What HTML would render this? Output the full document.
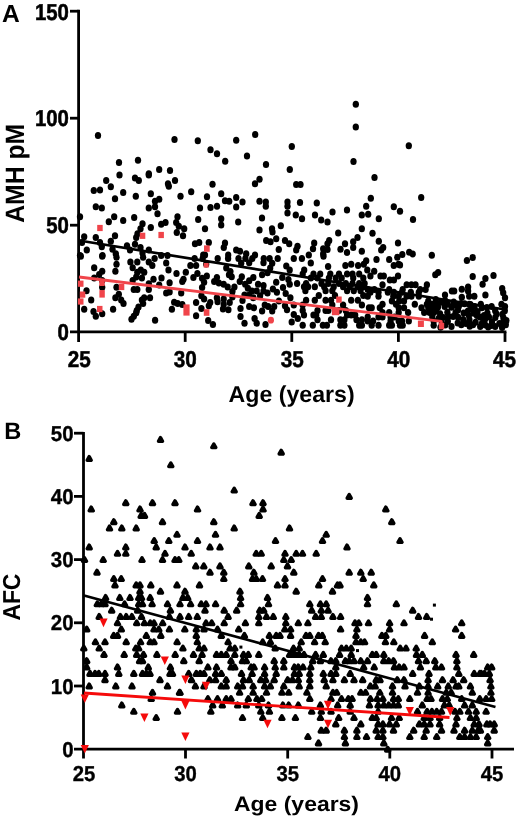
<!DOCTYPE html>
<html><head><meta charset="utf-8"><title>AMH and AFC vs Age</title>
<style>html,body{margin:0;padding:0;background:#fff;}svg{display:block;}svg{will-change:transform;}text{text-rendering:geometricPrecision;font-family:"Liberation Sans",sans-serif;font-weight:bold;fill:#000;}</style></head><body>
<svg width="520" height="822" viewBox="0 0 520 822">
<rect width="520" height="822" fill="#fff"/>
<g id="chartA">
<g fill="#000">
<ellipse cx="98.0" cy="135.5" rx="3.15" ry="3.5"/>
<ellipse cx="174.5" cy="139.5" rx="3.15" ry="3.5"/>
<ellipse cx="197.8" cy="140.8" rx="3.15" ry="3.5"/>
<ellipse cx="119.0" cy="162.5" rx="3.15" ry="3.5"/>
<ellipse cx="138.0" cy="160.2" rx="3.15" ry="3.5"/>
<ellipse cx="148.8" cy="173.8" rx="3.15" ry="3.5"/>
<ellipse cx="159.2" cy="169.5" rx="3.15" ry="3.5"/>
<ellipse cx="170.0" cy="170.5" rx="3.15" ry="3.5"/>
<ellipse cx="255.2" cy="134.5" rx="3.15" ry="3.5"/>
<ellipse cx="236.2" cy="140.2" rx="3.15" ry="3.5"/>
<ellipse cx="210.5" cy="149.8" rx="3.15" ry="3.5"/>
<ellipse cx="217.0" cy="153.8" rx="3.15" ry="3.5"/>
<ellipse cx="225.2" cy="161.2" rx="3.15" ry="3.5"/>
<ellipse cx="247.0" cy="156.0" rx="3.15" ry="3.5"/>
<ellipse cx="266.0" cy="164.5" rx="3.15" ry="3.5"/>
<ellipse cx="291.8" cy="146.5" rx="3.15" ry="3.5"/>
<ellipse cx="289.8" cy="169.5" rx="3.15" ry="3.5"/>
<ellipse cx="355.8" cy="104.2" rx="3.15" ry="3.5"/>
<ellipse cx="355.8" cy="127.0" rx="3.15" ry="3.5"/>
<ellipse cx="408.8" cy="145.8" rx="3.15" ry="3.5"/>
<ellipse cx="353.5" cy="161.5" rx="3.15" ry="3.5"/>
<ellipse cx="106.2" cy="180.5" rx="3.15" ry="3.5"/>
<ellipse cx="119.5" cy="175.0" rx="3.15" ry="3.5"/>
<ellipse cx="135.0" cy="178.0" rx="3.15" ry="3.5"/>
<ellipse cx="138.8" cy="180.5" rx="3.15" ry="3.5"/>
<ellipse cx="148.8" cy="175.0" rx="3.15" ry="3.5"/>
<ellipse cx="175.0" cy="180.5" rx="3.15" ry="3.5"/>
<ellipse cx="168.0" cy="183.8" rx="3.15" ry="3.5"/>
<ellipse cx="168.8" cy="186.2" rx="3.15" ry="3.5"/>
<ellipse cx="93.8" cy="190.5" rx="3.15" ry="3.5"/>
<ellipse cx="100.0" cy="190.0" rx="3.15" ry="3.5"/>
<ellipse cx="110.8" cy="186.8" rx="3.15" ry="3.5"/>
<ellipse cx="123.2" cy="192.5" rx="3.15" ry="3.5"/>
<ellipse cx="115.0" cy="198.8" rx="3.15" ry="3.5"/>
<ellipse cx="135.8" cy="196.2" rx="3.15" ry="3.5"/>
<ellipse cx="150.8" cy="193.8" rx="3.15" ry="3.5"/>
<ellipse cx="155.0" cy="201.2" rx="3.15" ry="3.5"/>
<ellipse cx="159.2" cy="199.2" rx="3.15" ry="3.5"/>
<ellipse cx="180.5" cy="196.2" rx="3.15" ry="3.5"/>
<ellipse cx="191.2" cy="191.8" rx="3.15" ry="3.5"/>
<ellipse cx="95.8" cy="206.8" rx="3.15" ry="3.5"/>
<ellipse cx="101.8" cy="208.0" rx="3.15" ry="3.5"/>
<ellipse cx="148.8" cy="208.0" rx="3.15" ry="3.5"/>
<ellipse cx="155.0" cy="206.8" rx="3.15" ry="3.5"/>
<ellipse cx="157.5" cy="213.8" rx="3.15" ry="3.5"/>
<ellipse cx="200.0" cy="208.0" rx="3.15" ry="3.5"/>
<ellipse cx="80.0" cy="216.8" rx="3.15" ry="3.5"/>
<ellipse cx="114.2" cy="216.8" rx="3.15" ry="3.5"/>
<ellipse cx="108.8" cy="221.8" rx="3.15" ry="3.5"/>
<ellipse cx="123.2" cy="220.5" rx="3.15" ry="3.5"/>
<ellipse cx="134.2" cy="217.5" rx="3.15" ry="3.5"/>
<ellipse cx="142.5" cy="223.8" rx="3.15" ry="3.5"/>
<ellipse cx="150.8" cy="227.5" rx="3.15" ry="3.5"/>
<ellipse cx="161.2" cy="224.2" rx="3.15" ry="3.5"/>
<ellipse cx="165.5" cy="222.5" rx="3.15" ry="3.5"/>
<ellipse cx="177.5" cy="216.8" rx="3.15" ry="3.5"/>
<ellipse cx="176.2" cy="222.5" rx="3.15" ry="3.5"/>
<ellipse cx="178.8" cy="226.2" rx="3.15" ry="3.5"/>
<ellipse cx="184.2" cy="228.8" rx="3.15" ry="3.5"/>
<ellipse cx="198.2" cy="219.5" rx="3.15" ry="3.5"/>
<ellipse cx="176.8" cy="232.5" rx="3.15" ry="3.5"/>
<ellipse cx="183.0" cy="235.8" rx="3.15" ry="3.5"/>
<ellipse cx="140.5" cy="228.8" rx="3.15" ry="3.5"/>
<ellipse cx="137.5" cy="233.8" rx="3.15" ry="3.5"/>
<ellipse cx="136.2" cy="237.5" rx="3.15" ry="3.5"/>
<ellipse cx="84.2" cy="236.8" rx="3.15" ry="3.5"/>
<ellipse cx="95.8" cy="237.5" rx="3.15" ry="3.5"/>
<ellipse cx="115.0" cy="235.8" rx="3.15" ry="3.5"/>
<ellipse cx="82.0" cy="242.5" rx="3.15" ry="3.5"/>
<ellipse cx="100.0" cy="242.5" rx="3.15" ry="3.5"/>
<ellipse cx="110.8" cy="241.2" rx="3.15" ry="3.5"/>
<ellipse cx="101.8" cy="246.8" rx="3.15" ry="3.5"/>
<ellipse cx="86.8" cy="250.0" rx="3.15" ry="3.5"/>
<ellipse cx="80.0" cy="255.5" rx="3.15" ry="3.5"/>
<ellipse cx="102.5" cy="255.5" rx="3.15" ry="3.5"/>
<ellipse cx="112.5" cy="249.2" rx="3.15" ry="3.5"/>
<ellipse cx="115.8" cy="253.8" rx="3.15" ry="3.5"/>
<ellipse cx="127.0" cy="245.8" rx="3.15" ry="3.5"/>
<ellipse cx="135.0" cy="244.2" rx="3.15" ry="3.5"/>
<ellipse cx="130.0" cy="250.0" rx="3.15" ry="3.5"/>
<ellipse cx="140.5" cy="247.5" rx="3.15" ry="3.5"/>
<ellipse cx="142.5" cy="253.0" rx="3.15" ry="3.5"/>
<ellipse cx="148.8" cy="250.0" rx="3.15" ry="3.5"/>
<ellipse cx="161.2" cy="255.5" rx="3.15" ry="3.5"/>
<ellipse cx="167.5" cy="255.5" rx="3.15" ry="3.5"/>
<ellipse cx="195.0" cy="243.8" rx="3.15" ry="3.5"/>
<ellipse cx="199.2" cy="242.5" rx="3.15" ry="3.5"/>
<ellipse cx="203.2" cy="255.0" rx="3.15" ry="3.5"/>
<ellipse cx="259.5" cy="179.2" rx="3.15" ry="3.5"/>
<ellipse cx="255.0" cy="183.8" rx="3.15" ry="3.5"/>
<ellipse cx="212.5" cy="184.2" rx="3.15" ry="3.5"/>
<ellipse cx="296.2" cy="184.5" rx="3.15" ry="3.5"/>
<ellipse cx="300.5" cy="184.5" rx="3.15" ry="3.5"/>
<ellipse cx="221.2" cy="193.8" rx="3.15" ry="3.5"/>
<ellipse cx="207.0" cy="196.8" rx="3.15" ry="3.5"/>
<ellipse cx="225.0" cy="200.8" rx="3.15" ry="3.5"/>
<ellipse cx="229.2" cy="201.2" rx="3.15" ry="3.5"/>
<ellipse cx="236.2" cy="197.5" rx="3.15" ry="3.5"/>
<ellipse cx="242.5" cy="202.0" rx="3.15" ry="3.5"/>
<ellipse cx="236.2" cy="207.0" rx="3.15" ry="3.5"/>
<ellipse cx="217.0" cy="206.2" rx="3.15" ry="3.5"/>
<ellipse cx="210.5" cy="207.5" rx="3.15" ry="3.5"/>
<ellipse cx="259.5" cy="201.2" rx="3.15" ry="3.5"/>
<ellipse cx="265.8" cy="202.0" rx="3.15" ry="3.5"/>
<ellipse cx="265.8" cy="206.2" rx="3.15" ry="3.5"/>
<ellipse cx="287.5" cy="202.0" rx="3.15" ry="3.5"/>
<ellipse cx="287.5" cy="206.2" rx="3.15" ry="3.5"/>
<ellipse cx="300.0" cy="202.5" rx="3.15" ry="3.5"/>
<ellipse cx="316.8" cy="203.0" rx="3.15" ry="3.5"/>
<ellipse cx="287.5" cy="213.0" rx="3.15" ry="3.5"/>
<ellipse cx="295.8" cy="215.0" rx="3.15" ry="3.5"/>
<ellipse cx="302.0" cy="218.8" rx="3.15" ry="3.5"/>
<ellipse cx="315.0" cy="215.0" rx="3.15" ry="3.5"/>
<ellipse cx="321.2" cy="220.0" rx="3.15" ry="3.5"/>
<ellipse cx="327.5" cy="222.0" rx="3.15" ry="3.5"/>
<ellipse cx="332.5" cy="212.0" rx="3.15" ry="3.5"/>
<ellipse cx="221.2" cy="218.8" rx="3.15" ry="3.5"/>
<ellipse cx="221.2" cy="225.0" rx="3.15" ry="3.5"/>
<ellipse cx="238.2" cy="222.0" rx="3.15" ry="3.5"/>
<ellipse cx="262.0" cy="218.0" rx="3.15" ry="3.5"/>
<ellipse cx="259.5" cy="230.0" rx="3.15" ry="3.5"/>
<ellipse cx="272.0" cy="228.8" rx="3.15" ry="3.5"/>
<ellipse cx="272.5" cy="232.0" rx="3.15" ry="3.5"/>
<ellipse cx="280.8" cy="225.8" rx="3.15" ry="3.5"/>
<ellipse cx="205.0" cy="228.8" rx="3.15" ry="3.5"/>
<ellipse cx="208.8" cy="242.5" rx="3.15" ry="3.5"/>
<ellipse cx="225.0" cy="243.0" rx="3.15" ry="3.5"/>
<ellipse cx="223.8" cy="247.5" rx="3.15" ry="3.5"/>
<ellipse cx="266.2" cy="240.5" rx="3.15" ry="3.5"/>
<ellipse cx="270.5" cy="241.8" rx="3.15" ry="3.5"/>
<ellipse cx="276.2" cy="238.8" rx="3.15" ry="3.5"/>
<ellipse cx="285.0" cy="240.5" rx="3.15" ry="3.5"/>
<ellipse cx="289.2" cy="243.8" rx="3.15" ry="3.5"/>
<ellipse cx="297.5" cy="246.2" rx="3.15" ry="3.5"/>
<ellipse cx="296.2" cy="250.0" rx="3.15" ry="3.5"/>
<ellipse cx="278.8" cy="249.5" rx="3.15" ry="3.5"/>
<ellipse cx="314.2" cy="243.0" rx="3.15" ry="3.5"/>
<ellipse cx="313.0" cy="248.8" rx="3.15" ry="3.5"/>
<ellipse cx="329.2" cy="240.5" rx="3.15" ry="3.5"/>
<ellipse cx="327.5" cy="243.8" rx="3.15" ry="3.5"/>
<ellipse cx="323.2" cy="248.8" rx="3.15" ry="3.5"/>
<ellipse cx="327.5" cy="249.5" rx="3.15" ry="3.5"/>
<ellipse cx="323.2" cy="253.8" rx="3.15" ry="3.5"/>
<ellipse cx="236.2" cy="250.0" rx="3.15" ry="3.5"/>
<ellipse cx="240.0" cy="251.2" rx="3.15" ry="3.5"/>
<ellipse cx="246.2" cy="253.8" rx="3.15" ry="3.5"/>
<ellipse cx="228.2" cy="255.0" rx="3.15" ry="3.5"/>
<ellipse cx="255.0" cy="255.0" rx="3.15" ry="3.5"/>
<ellipse cx="205.0" cy="255.0" rx="3.15" ry="3.5"/>
<ellipse cx="308.8" cy="255.0" rx="3.15" ry="3.5"/>
<ellipse cx="374.5" cy="177.5" rx="3.15" ry="3.5"/>
<ellipse cx="370.8" cy="198.2" rx="3.15" ry="3.5"/>
<ellipse cx="421.2" cy="197.5" rx="3.15" ry="3.5"/>
<ellipse cx="366.2" cy="206.2" rx="3.15" ry="3.5"/>
<ellipse cx="393.8" cy="206.8" rx="3.15" ry="3.5"/>
<ellipse cx="400.0" cy="211.2" rx="3.15" ry="3.5"/>
<ellipse cx="347.0" cy="210.0" rx="3.15" ry="3.5"/>
<ellipse cx="361.8" cy="215.0" rx="3.15" ry="3.5"/>
<ellipse cx="368.2" cy="214.2" rx="3.15" ry="3.5"/>
<ellipse cx="378.8" cy="218.8" rx="3.15" ry="3.5"/>
<ellipse cx="413.0" cy="219.5" rx="3.15" ry="3.5"/>
<ellipse cx="361.8" cy="228.8" rx="3.15" ry="3.5"/>
<ellipse cx="338.2" cy="233.0" rx="3.15" ry="3.5"/>
<ellipse cx="372.5" cy="233.2" rx="3.15" ry="3.5"/>
<ellipse cx="357.5" cy="237.5" rx="3.15" ry="3.5"/>
<ellipse cx="353.2" cy="241.8" rx="3.15" ry="3.5"/>
<ellipse cx="345.0" cy="243.8" rx="3.15" ry="3.5"/>
<ellipse cx="353.2" cy="247.5" rx="3.15" ry="3.5"/>
<ellipse cx="340.5" cy="249.2" rx="3.15" ry="3.5"/>
<ellipse cx="347.0" cy="252.5" rx="3.15" ry="3.5"/>
<ellipse cx="361.8" cy="251.2" rx="3.15" ry="3.5"/>
<ellipse cx="378.8" cy="241.2" rx="3.15" ry="3.5"/>
<ellipse cx="383.2" cy="247.5" rx="3.15" ry="3.5"/>
<ellipse cx="381.2" cy="250.0" rx="3.15" ry="3.5"/>
<ellipse cx="398.0" cy="243.0" rx="3.15" ry="3.5"/>
<ellipse cx="402.3" cy="254.6" rx="3.15" ry="3.5"/>
<ellipse cx="409.2" cy="252.3" rx="3.15" ry="3.5"/>
<ellipse cx="412.7" cy="253.9" rx="3.15" ry="3.5"/>
<ellipse cx="431.8" cy="255.3" rx="3.15" ry="3.5"/>
<ellipse cx="472.7" cy="257.4" rx="3.15" ry="3.5"/>
<ellipse cx="466.9" cy="260.4" rx="3.15" ry="3.5"/>
<ellipse cx="438.1" cy="272.4" rx="3.15" ry="3.5"/>
<ellipse cx="435.3" cy="274.7" rx="3.15" ry="3.5"/>
<ellipse cx="400.0" cy="265.0" rx="3.15" ry="3.5"/>
<ellipse cx="472.7" cy="276.5" rx="3.15" ry="3.5"/>
<ellipse cx="493.5" cy="275.4" rx="3.15" ry="3.5"/>
<ellipse cx="485.4" cy="278.4" rx="3.15" ry="3.5"/>
<ellipse cx="482.6" cy="284.2" rx="3.15" ry="3.5"/>
<ellipse cx="502.2" cy="288.5" rx="3.15" ry="3.5"/>
<ellipse cx="503.2" cy="292.7" rx="3.15" ry="3.5"/>
<ellipse cx="505.0" cy="297.8" rx="3.15" ry="3.5"/>
<ellipse cx="445.0" cy="295.0" rx="3.15" ry="3.5"/>
<ellipse cx="451.9" cy="291.1" rx="3.15" ry="3.5"/>
<ellipse cx="454.2" cy="291.1" rx="3.15" ry="3.5"/>
<ellipse cx="461.8" cy="289.2" rx="3.15" ry="3.5"/>
<ellipse cx="468.1" cy="286.9" rx="3.15" ry="3.5"/>
<ellipse cx="468.1" cy="291.1" rx="3.15" ry="3.5"/>
<ellipse cx="461.8" cy="297.3" rx="3.15" ry="3.5"/>
<ellipse cx="469.2" cy="296.2" rx="3.15" ry="3.5"/>
<ellipse cx="474.3" cy="296.2" rx="3.15" ry="3.5"/>
<ellipse cx="485.4" cy="295.0" rx="3.15" ry="3.5"/>
<ellipse cx="435.8" cy="299.6" rx="3.15" ry="3.5"/>
<ellipse cx="501.5" cy="304.2" rx="3.15" ry="3.5"/>
<ellipse cx="505.0" cy="306.5" rx="3.15" ry="3.5"/>
<ellipse cx="480.8" cy="304.2" rx="3.15" ry="3.5"/>
<ellipse cx="491.6" cy="306.5" rx="3.15" ry="3.5"/>
<ellipse cx="469.2" cy="304.2" rx="3.15" ry="3.5"/>
<ellipse cx="464.6" cy="303.8" rx="3.15" ry="3.5"/>
<ellipse cx="80.8" cy="256.2" rx="3.15" ry="3.5"/>
<ellipse cx="102.2" cy="256.2" rx="3.15" ry="3.5"/>
<ellipse cx="116.5" cy="257.3" rx="3.15" ry="3.5"/>
<ellipse cx="116.5" cy="264.2" rx="3.15" ry="3.5"/>
<ellipse cx="115.4" cy="271.2" rx="3.15" ry="3.5"/>
<ellipse cx="94.2" cy="267.7" rx="3.15" ry="3.5"/>
<ellipse cx="102.2" cy="271.2" rx="3.15" ry="3.5"/>
<ellipse cx="99.2" cy="274.6" rx="3.15" ry="3.5"/>
<ellipse cx="94.2" cy="278.1" rx="3.15" ry="3.5"/>
<ellipse cx="102.2" cy="280.4" rx="3.15" ry="3.5"/>
<ellipse cx="130.4" cy="261.9" rx="3.15" ry="3.5"/>
<ellipse cx="132.7" cy="267.7" rx="3.15" ry="3.5"/>
<ellipse cx="137.3" cy="261.9" rx="3.15" ry="3.5"/>
<ellipse cx="143.1" cy="257.3" rx="3.15" ry="3.5"/>
<ellipse cx="148.8" cy="261.9" rx="3.15" ry="3.5"/>
<ellipse cx="152.3" cy="265.4" rx="3.15" ry="3.5"/>
<ellipse cx="154.6" cy="258.5" rx="3.15" ry="3.5"/>
<ellipse cx="166.2" cy="263.1" rx="3.15" ry="3.5"/>
<ellipse cx="168.5" cy="270.0" rx="3.15" ry="3.5"/>
<ellipse cx="176.5" cy="273.5" rx="3.15" ry="3.5"/>
<ellipse cx="185.8" cy="272.3" rx="3.15" ry="3.5"/>
<ellipse cx="190.4" cy="265.4" rx="3.15" ry="3.5"/>
<ellipse cx="137.3" cy="272.3" rx="3.15" ry="3.5"/>
<ellipse cx="140.8" cy="270.0" rx="3.15" ry="3.5"/>
<ellipse cx="144.2" cy="272.3" rx="3.15" ry="3.5"/>
<ellipse cx="136.2" cy="276.9" rx="3.15" ry="3.5"/>
<ellipse cx="132.7" cy="280.4" rx="3.15" ry="3.5"/>
<ellipse cx="141.9" cy="278.1" rx="3.15" ry="3.5"/>
<ellipse cx="153.5" cy="279.2" rx="3.15" ry="3.5"/>
<ellipse cx="161.5" cy="278.1" rx="3.15" ry="3.5"/>
<ellipse cx="148.8" cy="283.8" rx="3.15" ry="3.5"/>
<ellipse cx="148.8" cy="289.6" rx="3.15" ry="3.5"/>
<ellipse cx="137.3" cy="289.6" rx="3.15" ry="3.5"/>
<ellipse cx="133.8" cy="289.6" rx="3.15" ry="3.5"/>
<ellipse cx="159.2" cy="285.0" rx="3.15" ry="3.5"/>
<ellipse cx="169.6" cy="282.7" rx="3.15" ry="3.5"/>
<ellipse cx="169.6" cy="291.9" rx="3.15" ry="3.5"/>
<ellipse cx="166.2" cy="293.1" rx="3.15" ry="3.5"/>
<ellipse cx="182.3" cy="281.5" rx="3.15" ry="3.5"/>
<ellipse cx="183.5" cy="279.2" rx="3.15" ry="3.5"/>
<ellipse cx="181.2" cy="293.1" rx="3.15" ry="3.5"/>
<ellipse cx="116.5" cy="287.3" rx="3.15" ry="3.5"/>
<ellipse cx="118.8" cy="294.2" rx="3.15" ry="3.5"/>
<ellipse cx="115.4" cy="297.7" rx="3.15" ry="3.5"/>
<ellipse cx="121.2" cy="300.0" rx="3.15" ry="3.5"/>
<ellipse cx="123.5" cy="303.5" rx="3.15" ry="3.5"/>
<ellipse cx="86.5" cy="290.8" rx="3.15" ry="3.5"/>
<ellipse cx="91.2" cy="300.0" rx="3.15" ry="3.5"/>
<ellipse cx="84.2" cy="309.2" rx="3.15" ry="3.5"/>
<ellipse cx="93.5" cy="311.5" rx="3.15" ry="3.5"/>
<ellipse cx="95.8" cy="316.2" rx="3.15" ry="3.5"/>
<ellipse cx="102.2" cy="313.8" rx="3.15" ry="3.5"/>
<ellipse cx="113.1" cy="309.2" rx="3.15" ry="3.5"/>
<ellipse cx="102.2" cy="287.3" rx="3.15" ry="3.5"/>
<ellipse cx="150.0" cy="297.7" rx="3.15" ry="3.5"/>
<ellipse cx="144.2" cy="297.7" rx="3.15" ry="3.5"/>
<ellipse cx="141.9" cy="300.0" rx="3.15" ry="3.5"/>
<ellipse cx="143.1" cy="303.5" rx="3.15" ry="3.5"/>
<ellipse cx="138.5" cy="306.9" rx="3.15" ry="3.5"/>
<ellipse cx="136.8" cy="310.4" rx="3.15" ry="3.5"/>
<ellipse cx="136.2" cy="312.7" rx="3.15" ry="3.5"/>
<ellipse cx="133.8" cy="316.2" rx="3.15" ry="3.5"/>
<ellipse cx="131.5" cy="319.2" rx="3.15" ry="3.5"/>
<ellipse cx="155.1" cy="320.3" rx="3.15" ry="3.5"/>
<ellipse cx="174.2" cy="302.3" rx="3.15" ry="3.5"/>
<ellipse cx="177.7" cy="303.5" rx="3.15" ry="3.5"/>
<ellipse cx="182.3" cy="304.6" rx="3.15" ry="3.5"/>
<ellipse cx="171.9" cy="309.2" rx="3.15" ry="3.5"/>
<ellipse cx="194.6" cy="258.5" rx="3.15" ry="3.5"/>
<ellipse cx="202.7" cy="258.5" rx="3.15" ry="3.5"/>
<ellipse cx="217.7" cy="258.5" rx="3.15" ry="3.5"/>
<ellipse cx="228.1" cy="258.5" rx="3.15" ry="3.5"/>
<ellipse cx="238.5" cy="258.5" rx="3.15" ry="3.5"/>
<ellipse cx="245.4" cy="258.5" rx="3.15" ry="3.5"/>
<ellipse cx="252.3" cy="258.5" rx="3.15" ry="3.5"/>
<ellipse cx="263.8" cy="258.5" rx="3.15" ry="3.5"/>
<ellipse cx="269.6" cy="258.5" rx="3.15" ry="3.5"/>
<ellipse cx="277.7" cy="258.5" rx="3.15" ry="3.5"/>
<ellipse cx="293.8" cy="258.5" rx="3.15" ry="3.5"/>
<ellipse cx="301.9" cy="258.5" rx="3.15" ry="3.5"/>
<ellipse cx="304.2" cy="270.0" rx="3.15" ry="3.5"/>
<ellipse cx="310.8" cy="263.1" rx="3.15" ry="3.5"/>
<ellipse cx="328.1" cy="266.5" rx="3.15" ry="3.5"/>
<ellipse cx="323.5" cy="256.2" rx="3.15" ry="3.5"/>
<ellipse cx="345.4" cy="265.4" rx="3.15" ry="3.5"/>
<ellipse cx="351.2" cy="264.2" rx="3.15" ry="3.5"/>
<ellipse cx="358.1" cy="265.4" rx="3.15" ry="3.5"/>
<ellipse cx="366.2" cy="260.8" rx="3.15" ry="3.5"/>
<ellipse cx="363.8" cy="264.2" rx="3.15" ry="3.5"/>
<ellipse cx="376.5" cy="259.6" rx="3.15" ry="3.5"/>
<ellipse cx="389.2" cy="259.6" rx="3.15" ry="3.5"/>
<ellipse cx="397.3" cy="257.3" rx="3.15" ry="3.5"/>
<ellipse cx="393.8" cy="265.4" rx="3.15" ry="3.5"/>
<ellipse cx="398.5" cy="264.2" rx="3.15" ry="3.5"/>
<ellipse cx="367.3" cy="270.0" rx="3.15" ry="3.5"/>
<ellipse cx="374.2" cy="271.2" rx="3.15" ry="3.5"/>
<ellipse cx="302.7" cy="274.0" rx="3.15" ry="3.5"/>
<ellipse cx="313.5" cy="274.0" rx="3.15" ry="3.5"/>
<ellipse cx="320.2" cy="274.0" rx="3.15" ry="3.5"/>
<ellipse cx="330.3" cy="274.0" rx="3.15" ry="3.5"/>
<ellipse cx="339.0" cy="274.0" rx="3.15" ry="3.5"/>
<ellipse cx="347.1" cy="274.0" rx="3.15" ry="3.5"/>
<ellipse cx="352.5" cy="274.0" rx="3.15" ry="3.5"/>
<ellipse cx="359.2" cy="274.0" rx="3.15" ry="3.5"/>
<ellipse cx="310.8" cy="278.1" rx="3.15" ry="3.5"/>
<ellipse cx="317.5" cy="278.1" rx="3.15" ry="3.5"/>
<ellipse cx="328.9" cy="278.1" rx="3.15" ry="3.5"/>
<ellipse cx="335.7" cy="278.1" rx="3.15" ry="3.5"/>
<ellipse cx="341.7" cy="278.1" rx="3.15" ry="3.5"/>
<ellipse cx="353.2" cy="278.1" rx="3.15" ry="3.5"/>
<ellipse cx="363.3" cy="278.1" rx="3.15" ry="3.5"/>
<ellipse cx="306.1" cy="283.4" rx="3.15" ry="3.5"/>
<ellipse cx="321.5" cy="283.4" rx="3.15" ry="3.5"/>
<ellipse cx="328.3" cy="283.4" rx="3.15" ry="3.5"/>
<ellipse cx="339.0" cy="283.4" rx="3.15" ry="3.5"/>
<ellipse cx="345.8" cy="283.4" rx="3.15" ry="3.5"/>
<ellipse cx="352.5" cy="283.4" rx="3.15" ry="3.5"/>
<ellipse cx="359.2" cy="283.4" rx="3.15" ry="3.5"/>
<ellipse cx="364.6" cy="283.4" rx="3.15" ry="3.5"/>
<ellipse cx="304.0" cy="286.8" rx="3.15" ry="3.5"/>
<ellipse cx="308.1" cy="286.8" rx="3.15" ry="3.5"/>
<ellipse cx="314.8" cy="286.8" rx="3.15" ry="3.5"/>
<ellipse cx="324.2" cy="286.8" rx="3.15" ry="3.5"/>
<ellipse cx="333.7" cy="286.8" rx="3.15" ry="3.5"/>
<ellipse cx="343.1" cy="286.8" rx="3.15" ry="3.5"/>
<ellipse cx="349.8" cy="286.8" rx="3.15" ry="3.5"/>
<ellipse cx="357.9" cy="286.8" rx="3.15" ry="3.5"/>
<ellipse cx="363.3" cy="286.8" rx="3.15" ry="3.5"/>
<ellipse cx="305.4" cy="290.8" rx="3.15" ry="3.5"/>
<ellipse cx="325.6" cy="290.8" rx="3.15" ry="3.5"/>
<ellipse cx="332.3" cy="290.8" rx="3.15" ry="3.5"/>
<ellipse cx="347.1" cy="290.8" rx="3.15" ry="3.5"/>
<ellipse cx="353.8" cy="290.8" rx="3.15" ry="3.5"/>
<ellipse cx="360.6" cy="290.8" rx="3.15" ry="3.5"/>
<ellipse cx="318.8" cy="295.6" rx="3.15" ry="3.5"/>
<ellipse cx="335.0" cy="295.6" rx="3.15" ry="3.5"/>
<ellipse cx="363.3" cy="295.6" rx="3.15" ry="3.5"/>
<ellipse cx="306.1" cy="300.3" rx="3.15" ry="3.5"/>
<ellipse cx="314.8" cy="300.3" rx="3.15" ry="3.5"/>
<ellipse cx="325.6" cy="300.3" rx="3.15" ry="3.5"/>
<ellipse cx="331.0" cy="300.3" rx="3.15" ry="3.5"/>
<ellipse cx="351.2" cy="300.3" rx="3.15" ry="3.5"/>
<ellipse cx="357.9" cy="300.3" rx="3.15" ry="3.5"/>
<ellipse cx="302.7" cy="305.0" rx="3.15" ry="3.5"/>
<ellipse cx="332.3" cy="305.0" rx="3.15" ry="3.5"/>
<ellipse cx="343.1" cy="305.0" rx="3.15" ry="3.5"/>
<ellipse cx="361.9" cy="305.0" rx="3.15" ry="3.5"/>
<ellipse cx="302.7" cy="310.4" rx="3.15" ry="3.5"/>
<ellipse cx="317.5" cy="310.4" rx="3.15" ry="3.5"/>
<ellipse cx="325.6" cy="310.4" rx="3.15" ry="3.5"/>
<ellipse cx="328.3" cy="310.4" rx="3.15" ry="3.5"/>
<ellipse cx="339.0" cy="310.4" rx="3.15" ry="3.5"/>
<ellipse cx="345.8" cy="310.4" rx="3.15" ry="3.5"/>
<ellipse cx="304.0" cy="315.1" rx="3.15" ry="3.5"/>
<ellipse cx="313.5" cy="315.1" rx="3.15" ry="3.5"/>
<ellipse cx="316.2" cy="315.1" rx="3.15" ry="3.5"/>
<ellipse cx="347.1" cy="315.1" rx="3.15" ry="3.5"/>
<ellipse cx="351.2" cy="315.1" rx="3.15" ry="3.5"/>
<ellipse cx="355.2" cy="315.1" rx="3.15" ry="3.5"/>
<ellipse cx="317.5" cy="319.8" rx="3.15" ry="3.5"/>
<ellipse cx="331.0" cy="319.8" rx="3.15" ry="3.5"/>
<ellipse cx="340.4" cy="319.8" rx="3.15" ry="3.5"/>
<ellipse cx="344.4" cy="319.8" rx="3.15" ry="3.5"/>
<ellipse cx="356.5" cy="319.8" rx="3.15" ry="3.5"/>
<ellipse cx="361.9" cy="319.8" rx="3.15" ry="3.5"/>
<ellipse cx="302.7" cy="325.2" rx="3.15" ry="3.5"/>
<ellipse cx="312.8" cy="325.2" rx="3.15" ry="3.5"/>
<ellipse cx="322.9" cy="325.2" rx="3.15" ry="3.5"/>
<ellipse cx="326.9" cy="325.2" rx="3.15" ry="3.5"/>
<ellipse cx="340.4" cy="325.2" rx="3.15" ry="3.5"/>
<ellipse cx="344.4" cy="325.2" rx="3.15" ry="3.5"/>
<ellipse cx="359.2" cy="325.2" rx="3.15" ry="3.5"/>
<ellipse cx="361.9" cy="325.2" rx="3.15" ry="3.5"/>
<ellipse cx="370.4" cy="276.0" rx="3.15" ry="3.5"/>
<ellipse cx="380.5" cy="276.0" rx="3.15" ry="3.5"/>
<ellipse cx="383.8" cy="276.0" rx="3.15" ry="3.5"/>
<ellipse cx="398.0" cy="276.0" rx="3.15" ry="3.5"/>
<ellipse cx="389.9" cy="280.1" rx="3.15" ry="3.5"/>
<ellipse cx="393.9" cy="280.1" rx="3.15" ry="3.5"/>
<ellipse cx="382.5" cy="284.8" rx="3.15" ry="3.5"/>
<ellipse cx="406.7" cy="284.8" rx="3.15" ry="3.5"/>
<ellipse cx="411.4" cy="284.8" rx="3.15" ry="3.5"/>
<ellipse cx="415.5" cy="284.8" rx="3.15" ry="3.5"/>
<ellipse cx="426.9" cy="284.8" rx="3.15" ry="3.5"/>
<ellipse cx="367.7" cy="289.5" rx="3.15" ry="3.5"/>
<ellipse cx="374.4" cy="289.5" rx="3.15" ry="3.5"/>
<ellipse cx="389.2" cy="289.5" rx="3.15" ry="3.5"/>
<ellipse cx="402.7" cy="289.5" rx="3.15" ry="3.5"/>
<ellipse cx="420.2" cy="289.5" rx="3.15" ry="3.5"/>
<ellipse cx="425.6" cy="289.5" rx="3.15" ry="3.5"/>
<ellipse cx="370.4" cy="292.2" rx="3.15" ry="3.5"/>
<ellipse cx="378.5" cy="292.2" rx="3.15" ry="3.5"/>
<ellipse cx="387.9" cy="292.2" rx="3.15" ry="3.5"/>
<ellipse cx="393.9" cy="292.2" rx="3.15" ry="3.5"/>
<ellipse cx="402.0" cy="292.2" rx="3.15" ry="3.5"/>
<ellipse cx="410.8" cy="292.2" rx="3.15" ry="3.5"/>
<ellipse cx="418.8" cy="292.2" rx="3.15" ry="3.5"/>
<ellipse cx="367.7" cy="296.2" rx="3.15" ry="3.5"/>
<ellipse cx="378.5" cy="296.2" rx="3.15" ry="3.5"/>
<ellipse cx="393.3" cy="296.2" rx="3.15" ry="3.5"/>
<ellipse cx="398.7" cy="296.2" rx="3.15" ry="3.5"/>
<ellipse cx="406.7" cy="296.2" rx="3.15" ry="3.5"/>
<ellipse cx="411.4" cy="296.2" rx="3.15" ry="3.5"/>
<ellipse cx="418.8" cy="296.2" rx="3.15" ry="3.5"/>
<ellipse cx="391.9" cy="300.9" rx="3.15" ry="3.5"/>
<ellipse cx="399.3" cy="300.9" rx="3.15" ry="3.5"/>
<ellipse cx="404.0" cy="300.9" rx="3.15" ry="3.5"/>
<ellipse cx="428.3" cy="300.9" rx="3.15" ry="3.5"/>
<ellipse cx="382.5" cy="304.3" rx="3.15" ry="3.5"/>
<ellipse cx="396.0" cy="304.3" rx="3.15" ry="3.5"/>
<ellipse cx="414.8" cy="304.3" rx="3.15" ry="3.5"/>
<ellipse cx="426.9" cy="304.3" rx="3.15" ry="3.5"/>
<ellipse cx="432.3" cy="304.3" rx="3.15" ry="3.5"/>
<ellipse cx="369.0" cy="307.7" rx="3.15" ry="3.5"/>
<ellipse cx="371.7" cy="307.7" rx="3.15" ry="3.5"/>
<ellipse cx="379.8" cy="307.7" rx="3.15" ry="3.5"/>
<ellipse cx="398.7" cy="307.7" rx="3.15" ry="3.5"/>
<ellipse cx="404.0" cy="307.7" rx="3.15" ry="3.5"/>
<ellipse cx="421.5" cy="307.7" rx="3.15" ry="3.5"/>
<ellipse cx="428.3" cy="307.7" rx="3.15" ry="3.5"/>
<ellipse cx="433.7" cy="307.7" rx="3.15" ry="3.5"/>
<ellipse cx="382.5" cy="312.4" rx="3.15" ry="3.5"/>
<ellipse cx="389.2" cy="312.4" rx="3.15" ry="3.5"/>
<ellipse cx="398.7" cy="312.4" rx="3.15" ry="3.5"/>
<ellipse cx="408.1" cy="312.4" rx="3.15" ry="3.5"/>
<ellipse cx="424.2" cy="312.4" rx="3.15" ry="3.5"/>
<ellipse cx="429.6" cy="312.4" rx="3.15" ry="3.5"/>
<ellipse cx="433.7" cy="312.4" rx="3.15" ry="3.5"/>
<ellipse cx="367.7" cy="317.1" rx="3.15" ry="3.5"/>
<ellipse cx="378.5" cy="317.1" rx="3.15" ry="3.5"/>
<ellipse cx="382.5" cy="317.1" rx="3.15" ry="3.5"/>
<ellipse cx="390.6" cy="317.1" rx="3.15" ry="3.5"/>
<ellipse cx="394.6" cy="317.1" rx="3.15" ry="3.5"/>
<ellipse cx="432.3" cy="317.1" rx="3.15" ry="3.5"/>
<ellipse cx="367.7" cy="321.1" rx="3.15" ry="3.5"/>
<ellipse cx="373.1" cy="321.1" rx="3.15" ry="3.5"/>
<ellipse cx="390.6" cy="321.1" rx="3.15" ry="3.5"/>
<ellipse cx="398.7" cy="321.1" rx="3.15" ry="3.5"/>
<ellipse cx="402.0" cy="321.1" rx="3.15" ry="3.5"/>
<ellipse cx="408.8" cy="321.1" rx="3.15" ry="3.5"/>
<ellipse cx="433.7" cy="321.1" rx="3.15" ry="3.5"/>
<ellipse cx="371.7" cy="325.2" rx="3.15" ry="3.5"/>
<ellipse cx="378.5" cy="325.2" rx="3.15" ry="3.5"/>
<ellipse cx="389.2" cy="325.2" rx="3.15" ry="3.5"/>
<ellipse cx="391.9" cy="325.2" rx="3.15" ry="3.5"/>
<ellipse cx="400.0" cy="325.2" rx="3.15" ry="3.5"/>
<ellipse cx="402.7" cy="325.2" rx="3.15" ry="3.5"/>
<ellipse cx="433.7" cy="325.2" rx="3.15" ry="3.5"/>
<ellipse cx="196.1" cy="265.4" rx="3.15" ry="3.5"/>
<ellipse cx="206.2" cy="264.0" rx="3.15" ry="3.5"/>
<ellipse cx="226.3" cy="268.1" rx="3.15" ry="3.5"/>
<ellipse cx="230.4" cy="271.4" rx="3.15" ry="3.5"/>
<ellipse cx="241.2" cy="263.3" rx="3.15" ry="3.5"/>
<ellipse cx="249.2" cy="262.7" rx="3.15" ry="3.5"/>
<ellipse cx="193.4" cy="277.5" rx="3.15" ry="3.5"/>
<ellipse cx="197.4" cy="273.4" rx="3.15" ry="3.5"/>
<ellipse cx="202.1" cy="278.2" rx="3.15" ry="3.5"/>
<ellipse cx="206.8" cy="276.1" rx="3.15" ry="3.5"/>
<ellipse cx="204.1" cy="282.2" rx="3.15" ry="3.5"/>
<ellipse cx="216.9" cy="277.5" rx="3.15" ry="3.5"/>
<ellipse cx="214.2" cy="281.5" rx="3.15" ry="3.5"/>
<ellipse cx="218.9" cy="282.9" rx="3.15" ry="3.5"/>
<ellipse cx="223.7" cy="284.2" rx="3.15" ry="3.5"/>
<ellipse cx="227.7" cy="286.9" rx="3.15" ry="3.5"/>
<ellipse cx="229.0" cy="274.8" rx="3.15" ry="3.5"/>
<ellipse cx="231.7" cy="276.8" rx="3.15" ry="3.5"/>
<ellipse cx="234.4" cy="286.9" rx="3.15" ry="3.5"/>
<ellipse cx="241.8" cy="276.8" rx="3.15" ry="3.5"/>
<ellipse cx="239.8" cy="281.5" rx="3.15" ry="3.5"/>
<ellipse cx="245.2" cy="284.2" rx="3.15" ry="3.5"/>
<ellipse cx="249.2" cy="280.8" rx="3.15" ry="3.5"/>
<ellipse cx="253.3" cy="277.5" rx="3.15" ry="3.5"/>
<ellipse cx="247.9" cy="288.2" rx="3.15" ry="3.5"/>
<ellipse cx="251.9" cy="290.9" rx="3.15" ry="3.5"/>
<ellipse cx="202.1" cy="287.6" rx="3.15" ry="3.5"/>
<ellipse cx="201.4" cy="295.7" rx="3.15" ry="3.5"/>
<ellipse cx="204.1" cy="299.0" rx="3.15" ry="3.5"/>
<ellipse cx="232.4" cy="291.6" rx="3.15" ry="3.5"/>
<ellipse cx="232.4" cy="297.0" rx="3.15" ry="3.5"/>
<ellipse cx="216.9" cy="297.7" rx="3.15" ry="3.5"/>
<ellipse cx="217.6" cy="301.7" rx="3.15" ry="3.5"/>
<ellipse cx="223.7" cy="299.0" rx="3.15" ry="3.5"/>
<ellipse cx="223.7" cy="304.4" rx="3.15" ry="3.5"/>
<ellipse cx="229.7" cy="302.4" rx="3.15" ry="3.5"/>
<ellipse cx="242.5" cy="300.4" rx="3.15" ry="3.5"/>
<ellipse cx="244.5" cy="295.0" rx="3.15" ry="3.5"/>
<ellipse cx="249.2" cy="295.0" rx="3.15" ry="3.5"/>
<ellipse cx="253.3" cy="297.7" rx="3.15" ry="3.5"/>
<ellipse cx="196.1" cy="302.4" rx="3.15" ry="3.5"/>
<ellipse cx="210.2" cy="302.4" rx="3.15" ry="3.5"/>
<ellipse cx="208.8" cy="305.8" rx="3.15" ry="3.5"/>
<ellipse cx="201.4" cy="308.4" rx="3.15" ry="3.5"/>
<ellipse cx="223.0" cy="309.1" rx="3.15" ry="3.5"/>
<ellipse cx="228.4" cy="309.8" rx="3.15" ry="3.5"/>
<ellipse cx="240.5" cy="308.4" rx="3.15" ry="3.5"/>
<ellipse cx="249.2" cy="306.4" rx="3.15" ry="3.5"/>
<ellipse cx="253.9" cy="307.8" rx="3.15" ry="3.5"/>
<ellipse cx="196.1" cy="315.8" rx="3.15" ry="3.5"/>
<ellipse cx="240.5" cy="316.5" rx="3.15" ry="3.5"/>
<ellipse cx="254.6" cy="318.5" rx="3.15" ry="3.5"/>
<ellipse cx="208.2" cy="320.6" rx="3.15" ry="3.5"/>
<ellipse cx="212.9" cy="324.6" rx="3.15" ry="3.5"/>
<ellipse cx="244.5" cy="323.2" rx="3.15" ry="3.5"/>
<ellipse cx="263.5" cy="262.7" rx="3.15" ry="3.5"/>
<ellipse cx="272.2" cy="263.3" rx="3.15" ry="3.5"/>
<ellipse cx="286.3" cy="266.0" rx="3.15" ry="3.5"/>
<ellipse cx="289.7" cy="270.1" rx="3.15" ry="3.5"/>
<ellipse cx="270.2" cy="268.1" rx="3.15" ry="3.5"/>
<ellipse cx="267.5" cy="272.8" rx="3.15" ry="3.5"/>
<ellipse cx="262.1" cy="274.8" rx="3.15" ry="3.5"/>
<ellipse cx="258.1" cy="284.2" rx="3.15" ry="3.5"/>
<ellipse cx="263.5" cy="285.6" rx="3.15" ry="3.5"/>
<ellipse cx="256.7" cy="290.9" rx="3.15" ry="3.5"/>
<ellipse cx="263.5" cy="290.9" rx="3.15" ry="3.5"/>
<ellipse cx="267.5" cy="293.0" rx="3.15" ry="3.5"/>
<ellipse cx="276.2" cy="282.2" rx="3.15" ry="3.5"/>
<ellipse cx="282.3" cy="277.5" rx="3.15" ry="3.5"/>
<ellipse cx="288.4" cy="279.5" rx="3.15" ry="3.5"/>
<ellipse cx="289.7" cy="284.2" rx="3.15" ry="3.5"/>
<ellipse cx="297.1" cy="283.5" rx="3.15" ry="3.5"/>
<ellipse cx="272.9" cy="288.9" rx="3.15" ry="3.5"/>
<ellipse cx="276.9" cy="292.3" rx="3.15" ry="3.5"/>
<ellipse cx="283.0" cy="287.6" rx="3.15" ry="3.5"/>
<ellipse cx="285.7" cy="293.6" rx="3.15" ry="3.5"/>
<ellipse cx="290.4" cy="297.7" rx="3.15" ry="3.5"/>
<ellipse cx="260.1" cy="295.7" rx="3.15" ry="3.5"/>
<ellipse cx="264.8" cy="305.1" rx="3.15" ry="3.5"/>
<ellipse cx="268.2" cy="306.4" rx="3.15" ry="3.5"/>
<ellipse cx="274.2" cy="306.4" rx="3.15" ry="3.5"/>
<ellipse cx="272.2" cy="311.1" rx="3.15" ry="3.5"/>
<ellipse cx="278.9" cy="301.0" rx="3.15" ry="3.5"/>
<ellipse cx="285.0" cy="305.8" rx="3.15" ry="3.5"/>
<ellipse cx="287.0" cy="309.8" rx="3.15" ry="3.5"/>
<ellipse cx="293.8" cy="305.1" rx="3.15" ry="3.5"/>
<ellipse cx="262.1" cy="311.1" rx="3.15" ry="3.5"/>
<ellipse cx="256.7" cy="323.2" rx="3.15" ry="3.5"/>
<ellipse cx="265.5" cy="324.6" rx="3.15" ry="3.5"/>
<ellipse cx="293.8" cy="314.5" rx="3.15" ry="3.5"/>
<ellipse cx="297.8" cy="318.5" rx="3.15" ry="3.5"/>
<ellipse cx="291.7" cy="321.9" rx="3.15" ry="3.5"/>
<ellipse cx="458.8" cy="306.3" rx="3.15" ry="3.5"/>
<ellipse cx="481.9" cy="307.8" rx="3.15" ry="3.5"/>
<ellipse cx="473.8" cy="313.2" rx="3.15" ry="3.5"/>
<ellipse cx="440.1" cy="313.8" rx="3.15" ry="3.5"/>
<ellipse cx="440.9" cy="302.2" rx="3.15" ry="3.5"/>
<ellipse cx="465.9" cy="323.5" rx="3.15" ry="3.5"/>
<ellipse cx="444.7" cy="306.4" rx="3.15" ry="3.5"/>
<ellipse cx="480.2" cy="326.5" rx="3.15" ry="3.5"/>
<ellipse cx="504.8" cy="310.8" rx="3.15" ry="3.5"/>
<ellipse cx="496.5" cy="314.1" rx="3.15" ry="3.5"/>
<ellipse cx="457.7" cy="323.0" rx="3.15" ry="3.5"/>
<ellipse cx="448.7" cy="316.4" rx="3.15" ry="3.5"/>
<ellipse cx="474.6" cy="306.5" rx="3.15" ry="3.5"/>
<ellipse cx="484.0" cy="315.6" rx="3.15" ry="3.5"/>
<ellipse cx="458.1" cy="317.2" rx="3.15" ry="3.5"/>
<ellipse cx="467.9" cy="311.1" rx="3.15" ry="3.5"/>
<ellipse cx="492.0" cy="321.7" rx="3.15" ry="3.5"/>
<ellipse cx="453.2" cy="316.5" rx="3.15" ry="3.5"/>
<ellipse cx="473.0" cy="324.8" rx="3.15" ry="3.5"/>
<ellipse cx="487.4" cy="313.0" rx="3.15" ry="3.5"/>
<ellipse cx="438.8" cy="318.2" rx="3.15" ry="3.5"/>
<ellipse cx="485.0" cy="319.2" rx="3.15" ry="3.5"/>
<ellipse cx="476.9" cy="315.6" rx="3.15" ry="3.5"/>
<ellipse cx="495.2" cy="326.5" rx="3.15" ry="3.5"/>
<ellipse cx="469.4" cy="319.8" rx="3.15" ry="3.5"/>
<ellipse cx="463.2" cy="319.5" rx="3.15" ry="3.5"/>
<ellipse cx="447.8" cy="303.9" rx="3.15" ry="3.5"/>
<ellipse cx="455.6" cy="312.6" rx="3.15" ry="3.5"/>
<ellipse cx="461.3" cy="324.7" rx="3.15" ry="3.5"/>
<ellipse cx="477.5" cy="311.4" rx="3.15" ry="3.5"/>
<ellipse cx="436.3" cy="310.9" rx="3.15" ry="3.5"/>
<ellipse cx="503.2" cy="322.1" rx="3.15" ry="3.5"/>
<ellipse cx="499.4" cy="323.5" rx="3.15" ry="3.5"/>
<ellipse cx="463.7" cy="313.0" rx="3.15" ry="3.5"/>
<ellipse cx="443.3" cy="317.5" rx="3.15" ry="3.5"/>
<ellipse cx="436.0" cy="303.2" rx="3.15" ry="3.5"/>
<ellipse cx="468.9" cy="315.5" rx="3.15" ry="3.5"/>
<ellipse cx="447.8" cy="321.5" rx="3.15" ry="3.5"/>
<ellipse cx="461.1" cy="303.6" rx="3.15" ry="3.5"/>
<ellipse cx="438.0" cy="307.1" rx="3.15" ry="3.5"/>
<ellipse cx="503.4" cy="317.7" rx="3.15" ry="3.5"/>
<ellipse cx="502.1" cy="327.4" rx="3.15" ry="3.5"/>
<ellipse cx="451.5" cy="307.3" rx="3.15" ry="3.5"/>
<ellipse cx="495.3" cy="317.6" rx="3.15" ry="3.5"/>
<ellipse cx="482.0" cy="323.3" rx="3.15" ry="3.5"/>
<ellipse cx="488.9" cy="317.1" rx="3.15" ry="3.5"/>
<ellipse cx="445.2" cy="300.7" rx="3.15" ry="3.5"/>
<ellipse cx="445.2" cy="325.1" rx="3.15" ry="3.5"/>
<ellipse cx="475.6" cy="322.2" rx="3.15" ry="3.5"/>
<ellipse cx="469.7" cy="326.2" rx="3.15" ry="3.5"/>
<ellipse cx="485.3" cy="325.0" rx="3.15" ry="3.5"/>
<ellipse cx="502.4" cy="314.3" rx="3.15" ry="3.5"/>
<ellipse cx="491.3" cy="325.6" rx="3.15" ry="3.5"/>
<ellipse cx="451.5" cy="326.4" rx="3.15" ry="3.5"/>
<ellipse cx="505.8" cy="324.7" rx="3.15" ry="3.5"/>
<ellipse cx="447.4" cy="312.3" rx="3.15" ry="3.5"/>
<ellipse cx="486.9" cy="307.5" rx="3.15" ry="3.5"/>
<ellipse cx="480.0" cy="317.0" rx="3.15" ry="3.5"/>
<ellipse cx="440.5" cy="327.2" rx="3.15" ry="3.5"/>
<ellipse cx="455.1" cy="305.2" rx="3.15" ry="3.5"/>
<ellipse cx="441.9" cy="323.6" rx="3.15" ry="3.5"/>
<ellipse cx="458.0" cy="310.1" rx="3.15" ry="3.5"/>
<ellipse cx="471.3" cy="308.6" rx="3.15" ry="3.5"/>
<ellipse cx="453.7" cy="302.1" rx="3.15" ry="3.5"/>
<ellipse cx="470.5" cy="304.5" rx="3.15" ry="3.5"/>
<ellipse cx="488.2" cy="327.1" rx="3.15" ry="3.5"/>
<ellipse cx="495.2" cy="310.7" rx="3.15" ry="3.5"/>
<ellipse cx="506.4" cy="320.5" rx="3.15" ry="3.5"/>
</g>
<g stroke="#000" stroke-width="2.8" fill="none">
<path d="M78.6 9.8V341.9M70.0 331.9H506.4"/>
<path d="M70.0 11.2H78.6"/>
<path d="M70.0 118.2H78.6"/>
<path d="M70.0 225.2H78.6"/>
<path d="M185.2 331.9V341.9"/>
<path d="M291.8 331.9V341.9"/>
<path d="M398.4 331.9V341.9"/>
<path d="M505 331.9V341.9"/>
<path d="M79 240.5L505 309.5" stroke-width="2.7"/>
</g>
<g fill="#f0444a">
<rect x="78.0" y="280.6" width="5.5" height="6.2"/>
<rect x="79.8" y="291.5" width="5.5" height="6.2"/>
<rect x="78.0" y="298.4" width="5.5" height="6.2"/>
<rect x="99.4" y="290.1" width="5.4" height="7.5"/>
<rect x="97.0" y="305.9" width="5.5" height="6.2"/>
<rect x="118.8" y="283.9" width="5.5" height="6.2"/>
<rect x="99.3" y="281.0" width="5.4" height="5.0"/>
<rect x="97.2" y="224.9" width="5.5" height="6.2"/>
<rect x="139.8" y="232.7" width="5.5" height="6.2"/>
<rect x="158.4" y="231.9" width="5.5" height="6.2"/>
<rect x="204.0" y="245.4" width="5.7" height="6.4"/>
<rect x="203.7" y="263.0" width="5.0" height="4.6"/>
<rect x="183.4" y="304.4" width="6.2" height="11.2"/>
<rect x="203.8" y="309.2" width="5.6" height="6.6"/>
<rect x="336.2" y="296.5" width="5.5" height="6.2"/>
<rect x="331.9" y="308.2" width="7.5" height="7.0"/>
<rect x="417.9" y="320.6" width="6" height="6.4"/>
<rect x="438.8" y="322.8" width="5.4" height="6.5"/>
<ellipse cx="270.9" cy="320.2" rx="3.1" ry="3.4"/>
</g>
<path d="M79 277L441.3 321.3V327" stroke="#f0444a" stroke-width="2.8" fill="none" stroke-linejoin="round"/>
<text x="2.0" y="21.8" font-size="24.6" text-anchor="start">A</text>
<text x="68.9" y="19.5" font-size="23" text-anchor="end" stroke="#000" stroke-width="0.55" textLength="34" lengthAdjust="spacingAndGlyphs">150</text>
<text x="68.9" y="125.8" font-size="23" text-anchor="end" stroke="#000" stroke-width="0.55" textLength="34" lengthAdjust="spacingAndGlyphs">100</text>
<text x="68.9" y="233.0" font-size="23" text-anchor="end" stroke="#000" stroke-width="0.55" textLength="22.7" lengthAdjust="spacingAndGlyphs">50</text>
<text x="68.9" y="339.8" font-size="23" text-anchor="end" stroke="#000" stroke-width="0.55" textLength="11.4" lengthAdjust="spacingAndGlyphs">0</text>
<text x="79.2" y="366.9" font-size="23" text-anchor="middle" stroke="#000" stroke-width="0.55" textLength="23" lengthAdjust="spacingAndGlyphs">25</text>
<text x="185.2" y="366.9" font-size="23" text-anchor="middle" stroke="#000" stroke-width="0.55" textLength="23" lengthAdjust="spacingAndGlyphs">30</text>
<text x="292.2" y="366.9" font-size="23" text-anchor="middle" stroke="#000" stroke-width="0.55" textLength="23" lengthAdjust="spacingAndGlyphs">35</text>
<text x="398.8" y="366.9" font-size="23" text-anchor="middle" stroke="#000" stroke-width="0.55" textLength="23" lengthAdjust="spacingAndGlyphs">40</text>
<text x="504.5" y="366.9" font-size="23" text-anchor="middle" stroke="#000" stroke-width="0.55" textLength="23" lengthAdjust="spacingAndGlyphs">45</text>
<text x="228.6" y="402" font-size="23" text-anchor="start" textLength="126" lengthAdjust="spacingAndGlyphs">Age (years)</text>
<text x="23.9" y="222.8" font-size="26.5" text-anchor="start" textLength="99" lengthAdjust="spacingAndGlyphs" transform="rotate(-90 23.9 222.8)">AMH pM</text>
</g>
<g id="chartB">
<defs><path id="t" d="M0 -1.8L2.0 1.75H-2.0Z"/></defs>
<g fill="#000" stroke="#000" stroke-width="3.5" stroke-linejoin="round">
<use href="#t" x="160.5" y="439.5"/>
<use href="#t" x="89.2" y="458.5"/>
<use href="#t" x="170.8" y="464.8"/>
<use href="#t" x="125.8" y="502.7"/>
<use href="#t" x="152.5" y="502.7"/>
<use href="#t" x="175.0" y="502.7"/>
<use href="#t" x="91.2" y="509.0"/>
<use href="#t" x="140.0" y="509.0"/>
<use href="#t" x="197.5" y="509.0"/>
<use href="#t" x="141.2" y="515.4"/>
<use href="#t" x="144.5" y="515.4"/>
<use href="#t" x="113.8" y="521.7"/>
<use href="#t" x="162.5" y="521.7"/>
<use href="#t" x="213.8" y="445.8"/>
<use href="#t" x="281.2" y="452.2"/>
<use href="#t" x="234.2" y="490.1"/>
<use href="#t" x="253.0" y="502.7"/>
<use href="#t" x="263.0" y="502.7"/>
<use href="#t" x="263.0" y="509.0"/>
<use href="#t" x="259.2" y="515.4"/>
<use href="#t" x="213.8" y="521.7"/>
<use href="#t" x="349.2" y="496.4"/>
<use href="#t" x="385.8" y="509.0"/>
<use href="#t" x="391.8" y="521.7"/>
<use href="#t" x="109.5" y="528.0"/>
<use href="#t" x="121.8" y="528.0"/>
<use href="#t" x="136.2" y="528.0"/>
<use href="#t" x="177.0" y="534.3"/>
<use href="#t" x="154.2" y="540.6"/>
<use href="#t" x="168.8" y="540.6"/>
<use href="#t" x="197.5" y="540.6"/>
<use href="#t" x="89.2" y="547.0"/>
<use href="#t" x="125.8" y="547.0"/>
<use href="#t" x="156.2" y="547.0"/>
<use href="#t" x="185.0" y="547.0"/>
<use href="#t" x="117.5" y="553.3"/>
<use href="#t" x="125.8" y="553.3"/>
<use href="#t" x="165.0" y="553.3"/>
<use href="#t" x="191.2" y="553.3"/>
<use href="#t" x="84.5" y="559.6"/>
<use href="#t" x="103.2" y="559.6"/>
<use href="#t" x="142.0" y="559.6"/>
<use href="#t" x="162.5" y="559.6"/>
<use href="#t" x="175.0" y="559.6"/>
<use href="#t" x="178.8" y="559.6"/>
<use href="#t" x="195.8" y="565.9"/>
<use href="#t" x="203.8" y="565.9"/>
<use href="#t" x="97.0" y="572.2"/>
<use href="#t" x="113.8" y="578.6"/>
<use href="#t" x="121.2" y="578.6"/>
<use href="#t" x="115.0" y="584.9"/>
<use href="#t" x="136.2" y="584.9"/>
<use href="#t" x="140.0" y="584.9"/>
<use href="#t" x="150.8" y="584.9"/>
<use href="#t" x="177.0" y="584.9"/>
<use href="#t" x="199.5" y="584.9"/>
<use href="#t" x="140.0" y="591.2"/>
<use href="#t" x="160.5" y="591.2"/>
<use href="#t" x="185.0" y="591.2"/>
<use href="#t" x="234.2" y="528.0"/>
<use href="#t" x="289.5" y="528.0"/>
<use href="#t" x="215.5" y="534.3"/>
<use href="#t" x="326.2" y="534.3"/>
<use href="#t" x="275.5" y="540.6"/>
<use href="#t" x="322.5" y="540.6"/>
<use href="#t" x="210.0" y="547.0"/>
<use href="#t" x="220.0" y="547.0"/>
<use href="#t" x="256.2" y="553.3"/>
<use href="#t" x="261.2" y="553.3"/>
<use href="#t" x="285.0" y="553.3"/>
<use href="#t" x="296.2" y="553.3"/>
<use href="#t" x="302.5" y="553.3"/>
<use href="#t" x="316.2" y="553.3"/>
<use href="#t" x="283.8" y="559.6"/>
<use href="#t" x="291.2" y="559.6"/>
<use href="#t" x="220.0" y="565.9"/>
<use href="#t" x="248.8" y="565.9"/>
<use href="#t" x="271.2" y="565.9"/>
<use href="#t" x="287.5" y="565.9"/>
<use href="#t" x="210.0" y="572.2"/>
<use href="#t" x="223.8" y="572.2"/>
<use href="#t" x="253.8" y="572.2"/>
<use href="#t" x="293.8" y="572.2"/>
<use href="#t" x="223.8" y="578.6"/>
<use href="#t" x="252.5" y="578.6"/>
<use href="#t" x="256.2" y="578.6"/>
<use href="#t" x="262.5" y="578.6"/>
<use href="#t" x="285.0" y="578.6"/>
<use href="#t" x="322.5" y="578.6"/>
<use href="#t" x="277.5" y="584.9"/>
<use href="#t" x="285.0" y="584.9"/>
<use href="#t" x="318.8" y="584.9"/>
<use href="#t" x="337.5" y="584.9"/>
<use href="#t" x="240.0" y="591.2"/>
<use href="#t" x="296.2" y="591.2"/>
<use href="#t" x="332.5" y="591.2"/>
<use href="#t" x="400.0" y="540.6"/>
<use href="#t" x="347.0" y="547.0"/>
<use href="#t" x="349.2" y="572.2"/>
<use href="#t" x="360.8" y="572.2"/>
<use href="#t" x="371.2" y="572.2"/>
<use href="#t" x="363.2" y="578.6"/>
<use href="#t" x="340.0" y="584.9"/>
<use href="#t" x="373.8" y="584.9"/>
<use href="#t" x="105.6" y="597.5"/>
<use href="#t" x="119.8" y="597.5"/>
<use href="#t" x="130.0" y="597.5"/>
<use href="#t" x="138.7" y="597.5"/>
<use href="#t" x="141.5" y="597.5"/>
<use href="#t" x="150.2" y="597.5"/>
<use href="#t" x="97.3" y="603.8"/>
<use href="#t" x="101.2" y="603.8"/>
<use href="#t" x="105.0" y="603.8"/>
<use href="#t" x="124.6" y="603.8"/>
<use href="#t" x="138.7" y="603.8"/>
<use href="#t" x="142.5" y="603.8"/>
<use href="#t" x="152.1" y="603.8"/>
<use href="#t" x="167.5" y="603.8"/>
<use href="#t" x="111.7" y="610.2"/>
<use href="#t" x="137.7" y="610.2"/>
<use href="#t" x="170.4" y="610.2"/>
<use href="#t" x="99.2" y="616.5"/>
<use href="#t" x="120.4" y="616.5"/>
<use href="#t" x="126.2" y="616.5"/>
<use href="#t" x="131.9" y="616.5"/>
<use href="#t" x="141.5" y="616.5"/>
<use href="#t" x="169.4" y="616.5"/>
<use href="#t" x="117.5" y="622.8"/>
<use href="#t" x="136.7" y="622.8"/>
<use href="#t" x="144.4" y="622.8"/>
<use href="#t" x="150.2" y="622.8"/>
<use href="#t" x="154.0" y="622.8"/>
<use href="#t" x="162.7" y="622.8"/>
<use href="#t" x="86.7" y="629.1"/>
<use href="#t" x="121.3" y="629.1"/>
<use href="#t" x="154.0" y="629.1"/>
<use href="#t" x="158.8" y="629.1"/>
<use href="#t" x="169.4" y="629.1"/>
<use href="#t" x="113.7" y="635.4"/>
<use href="#t" x="117.5" y="635.4"/>
<use href="#t" x="146.3" y="635.4"/>
<use href="#t" x="160.8" y="635.4"/>
<use href="#t" x="95.4" y="641.8"/>
<use href="#t" x="105.0" y="641.8"/>
<use href="#t" x="126.2" y="641.8"/>
<use href="#t" x="140.6" y="641.8"/>
<use href="#t" x="150.2" y="641.8"/>
<use href="#t" x="154.0" y="641.8"/>
<use href="#t" x="177.1" y="641.8"/>
<use href="#t" x="83.8" y="648.1"/>
<use href="#t" x="99.2" y="648.1"/>
<use href="#t" x="135.8" y="648.1"/>
<use href="#t" x="138.7" y="648.1"/>
<use href="#t" x="104.0" y="654.4"/>
<use href="#t" x="124.2" y="654.4"/>
<use href="#t" x="136.7" y="654.4"/>
<use href="#t" x="143.5" y="654.4"/>
<use href="#t" x="156.9" y="654.4"/>
<use href="#t" x="175.2" y="654.4"/>
<use href="#t" x="86.7" y="660.7"/>
<use href="#t" x="139.6" y="660.7"/>
<use href="#t" x="142.5" y="660.7"/>
<use href="#t" x="86.7" y="667.0"/>
<use href="#t" x="117.5" y="667.0"/>
<use href="#t" x="148.3" y="667.0"/>
<use href="#t" x="170.4" y="667.0"/>
<use href="#t" x="182.9" y="597.5"/>
<use href="#t" x="187.7" y="597.5"/>
<use href="#t" x="240.6" y="597.5"/>
<use href="#t" x="267.5" y="597.5"/>
<use href="#t" x="180.0" y="603.8"/>
<use href="#t" x="190.6" y="603.8"/>
<use href="#t" x="201.2" y="603.8"/>
<use href="#t" x="206.0" y="603.8"/>
<use href="#t" x="215.6" y="603.8"/>
<use href="#t" x="240.6" y="603.8"/>
<use href="#t" x="268.5" y="603.8"/>
<use href="#t" x="205.0" y="610.2"/>
<use href="#t" x="224.2" y="610.2"/>
<use href="#t" x="236.7" y="610.2"/>
<use href="#t" x="259.8" y="610.2"/>
<use href="#t" x="263.7" y="610.2"/>
<use href="#t" x="180.0" y="616.5"/>
<use href="#t" x="188.7" y="616.5"/>
<use href="#t" x="197.3" y="616.5"/>
<use href="#t" x="228.1" y="616.5"/>
<use href="#t" x="258.8" y="616.5"/>
<use href="#t" x="266.5" y="616.5"/>
<use href="#t" x="273.3" y="616.5"/>
<use href="#t" x="206.0" y="622.8"/>
<use href="#t" x="211.7" y="622.8"/>
<use href="#t" x="224.2" y="622.8"/>
<use href="#t" x="245.4" y="622.8"/>
<use href="#t" x="258.8" y="622.8"/>
<use href="#t" x="184.8" y="629.1"/>
<use href="#t" x="196.3" y="629.1"/>
<use href="#t" x="204.0" y="629.1"/>
<use href="#t" x="217.5" y="629.1"/>
<use href="#t" x="238.7" y="629.1"/>
<use href="#t" x="196.3" y="635.4"/>
<use href="#t" x="221.3" y="635.4"/>
<use href="#t" x="244.4" y="635.4"/>
<use href="#t" x="269.4" y="635.4"/>
<use href="#t" x="276.2" y="635.4"/>
<use href="#t" x="197.3" y="641.8"/>
<use href="#t" x="228.1" y="641.8"/>
<use href="#t" x="262.7" y="641.8"/>
<use href="#t" x="270.4" y="641.8"/>
<use href="#t" x="182.9" y="648.1"/>
<use href="#t" x="199.2" y="648.1"/>
<use href="#t" x="204.0" y="648.1"/>
<use href="#t" x="230.0" y="648.1"/>
<use href="#t" x="234.8" y="648.1"/>
<use href="#t" x="275.2" y="648.1"/>
<use href="#t" x="193.5" y="654.4"/>
<use href="#t" x="202.1" y="654.4"/>
<use href="#t" x="216.5" y="654.4"/>
<use href="#t" x="221.3" y="654.4"/>
<use href="#t" x="226.2" y="654.4"/>
<use href="#t" x="234.8" y="654.4"/>
<use href="#t" x="243.5" y="654.4"/>
<use href="#t" x="248.3" y="654.4"/>
<use href="#t" x="258.8" y="654.4"/>
<use href="#t" x="183.8" y="660.7"/>
<use href="#t" x="199.2" y="660.7"/>
<use href="#t" x="231.0" y="660.7"/>
<use href="#t" x="242.5" y="660.7"/>
<use href="#t" x="246.3" y="660.7"/>
<use href="#t" x="274.2" y="660.7"/>
<use href="#t" x="207.9" y="667.0"/>
<use href="#t" x="216.5" y="667.0"/>
<use href="#t" x="231.0" y="667.0"/>
<use href="#t" x="234.8" y="667.0"/>
<use href="#t" x="251.2" y="667.0"/>
<use href="#t" x="254.0" y="667.0"/>
<use href="#t" x="264.6" y="667.0"/>
<use href="#t" x="275.2" y="667.0"/>
<use href="#t" x="367.5" y="597.5"/>
<use href="#t" x="309.8" y="603.8"/>
<use href="#t" x="320.4" y="603.8"/>
<use href="#t" x="326.2" y="603.8"/>
<use href="#t" x="367.5" y="603.8"/>
<use href="#t" x="311.7" y="610.2"/>
<use href="#t" x="321.3" y="610.2"/>
<use href="#t" x="328.1" y="610.2"/>
<use href="#t" x="285.8" y="616.5"/>
<use href="#t" x="315.6" y="616.5"/>
<use href="#t" x="321.3" y="616.5"/>
<use href="#t" x="332.9" y="616.5"/>
<use href="#t" x="340.6" y="616.5"/>
<use href="#t" x="285.8" y="622.8"/>
<use href="#t" x="298.3" y="622.8"/>
<use href="#t" x="307.9" y="622.8"/>
<use href="#t" x="355.0" y="622.8"/>
<use href="#t" x="358.8" y="622.8"/>
<use href="#t" x="368.5" y="622.8"/>
<use href="#t" x="284.8" y="629.1"/>
<use href="#t" x="290.6" y="629.1"/>
<use href="#t" x="340.6" y="629.1"/>
<use href="#t" x="356.9" y="629.1"/>
<use href="#t" x="280.0" y="635.4"/>
<use href="#t" x="290.6" y="635.4"/>
<use href="#t" x="306.0" y="635.4"/>
<use href="#t" x="309.8" y="635.4"/>
<use href="#t" x="318.5" y="635.4"/>
<use href="#t" x="322.3" y="635.4"/>
<use href="#t" x="356.0" y="635.4"/>
<use href="#t" x="301.2" y="641.8"/>
<use href="#t" x="314.6" y="641.8"/>
<use href="#t" x="325.2" y="641.8"/>
<use href="#t" x="356.0" y="641.8"/>
<use href="#t" x="360.8" y="641.8"/>
<use href="#t" x="364.6" y="641.8"/>
<use href="#t" x="293.5" y="648.1"/>
<use href="#t" x="299.2" y="648.1"/>
<use href="#t" x="341.5" y="648.1"/>
<use href="#t" x="346.3" y="648.1"/>
<use href="#t" x="351.2" y="648.1"/>
<use href="#t" x="289.6" y="654.4"/>
<use href="#t" x="294.4" y="654.4"/>
<use href="#t" x="299.2" y="654.4"/>
<use href="#t" x="304.0" y="654.4"/>
<use href="#t" x="315.6" y="654.4"/>
<use href="#t" x="323.3" y="654.4"/>
<use href="#t" x="339.6" y="654.4"/>
<use href="#t" x="351.2" y="654.4"/>
<use href="#t" x="372.3" y="654.4"/>
<use href="#t" x="376.2" y="654.4"/>
<use href="#t" x="283.8" y="660.7"/>
<use href="#t" x="312.7" y="660.7"/>
<use href="#t" x="320.4" y="660.7"/>
<use href="#t" x="331.0" y="660.7"/>
<use href="#t" x="335.8" y="660.7"/>
<use href="#t" x="345.4" y="660.7"/>
<use href="#t" x="349.2" y="660.7"/>
<use href="#t" x="354.0" y="660.7"/>
<use href="#t" x="360.8" y="660.7"/>
<use href="#t" x="367.5" y="660.7"/>
<use href="#t" x="283.8" y="667.0"/>
<use href="#t" x="294.4" y="667.0"/>
<use href="#t" x="298.3" y="667.0"/>
<use href="#t" x="303.1" y="667.0"/>
<use href="#t" x="310.8" y="667.0"/>
<use href="#t" x="335.8" y="667.0"/>
<use href="#t" x="363.7" y="667.0"/>
<use href="#t" x="374.2" y="667.0"/>
<use href="#t" x="396.3" y="603.8"/>
<use href="#t" x="412.7" y="610.2"/>
<use href="#t" x="418.5" y="616.5"/>
<use href="#t" x="426.7" y="616.5"/>
<use href="#t" x="389.6" y="622.8"/>
<use href="#t" x="404.0" y="622.8"/>
<use href="#t" x="461.7" y="622.8"/>
<use href="#t" x="389.6" y="629.1"/>
<use href="#t" x="455.6" y="629.1"/>
<use href="#t" x="381.9" y="635.4"/>
<use href="#t" x="385.8" y="635.4"/>
<use href="#t" x="424.6" y="635.4"/>
<use href="#t" x="461.7" y="635.4"/>
<use href="#t" x="385.4" y="641.8"/>
<use href="#t" x="393.8" y="641.8"/>
<use href="#t" x="432.3" y="641.8"/>
<use href="#t" x="400.2" y="648.1"/>
<use href="#t" x="406.0" y="648.1"/>
<use href="#t" x="416.2" y="648.1"/>
<use href="#t" x="383.8" y="654.4"/>
<use href="#t" x="416.5" y="654.4"/>
<use href="#t" x="422.3" y="654.4"/>
<use href="#t" x="456.0" y="654.4"/>
<use href="#t" x="473.7" y="654.4"/>
<use href="#t" x="383.8" y="660.7"/>
<use href="#t" x="388.7" y="660.7"/>
<use href="#t" x="393.5" y="660.7"/>
<use href="#t" x="418.5" y="660.7"/>
<use href="#t" x="426.2" y="660.7"/>
<use href="#t" x="434.8" y="660.7"/>
<use href="#t" x="456.9" y="660.7"/>
<use href="#t" x="394.4" y="667.0"/>
<use href="#t" x="399.2" y="667.0"/>
<use href="#t" x="404.0" y="667.0"/>
<use href="#t" x="420.4" y="667.0"/>
<use href="#t" x="435.8" y="667.0"/>
<use href="#t" x="441.5" y="667.0"/>
<use href="#t" x="456.9" y="667.0"/>
<use href="#t" x="90.0" y="673.4"/>
<use href="#t" x="95.0" y="673.4"/>
<use href="#t" x="98.8" y="673.4"/>
<use href="#t" x="105.0" y="673.4"/>
<use href="#t" x="118.8" y="673.4"/>
<use href="#t" x="133.8" y="673.4"/>
<use href="#t" x="142.5" y="673.4"/>
<use href="#t" x="146.2" y="673.4"/>
<use href="#t" x="150.0" y="673.4"/>
<use href="#t" x="170.0" y="673.4"/>
<use href="#t" x="172.5" y="673.4"/>
<use href="#t" x="105.0" y="679.7"/>
<use href="#t" x="160.0" y="679.7"/>
<use href="#t" x="89.2" y="686.0"/>
<use href="#t" x="115.8" y="686.0"/>
<use href="#t" x="132.0" y="686.0"/>
<use href="#t" x="167.5" y="686.0"/>
<use href="#t" x="152.5" y="692.3"/>
<use href="#t" x="179.5" y="692.3"/>
<use href="#t" x="151.2" y="698.6"/>
<use href="#t" x="121.8" y="705.0"/>
<use href="#t" x="133.8" y="711.3"/>
<use href="#t" x="177.5" y="711.3"/>
<use href="#t" x="156.2" y="717.6"/>
<use href="#t" x="188.7" y="673.4"/>
<use href="#t" x="196.3" y="673.4"/>
<use href="#t" x="200.2" y="673.4"/>
<use href="#t" x="204.0" y="673.4"/>
<use href="#t" x="215.6" y="673.4"/>
<use href="#t" x="221.3" y="673.4"/>
<use href="#t" x="241.5" y="673.4"/>
<use href="#t" x="252.1" y="673.4"/>
<use href="#t" x="264.6" y="673.4"/>
<use href="#t" x="276.2" y="673.4"/>
<use href="#t" x="191.5" y="679.7"/>
<use href="#t" x="209.8" y="679.7"/>
<use href="#t" x="215.6" y="679.7"/>
<use href="#t" x="226.2" y="679.7"/>
<use href="#t" x="243.5" y="679.7"/>
<use href="#t" x="249.2" y="679.7"/>
<use href="#t" x="260.8" y="679.7"/>
<use href="#t" x="265.6" y="679.7"/>
<use href="#t" x="274.2" y="679.7"/>
<use href="#t" x="195.4" y="686.0"/>
<use href="#t" x="204.0" y="686.0"/>
<use href="#t" x="221.3" y="686.0"/>
<use href="#t" x="226.2" y="686.0"/>
<use href="#t" x="237.7" y="686.0"/>
<use href="#t" x="242.5" y="686.0"/>
<use href="#t" x="253.1" y="686.0"/>
<use href="#t" x="264.6" y="686.0"/>
<use href="#t" x="270.4" y="686.0"/>
<use href="#t" x="180.0" y="692.3"/>
<use href="#t" x="239.6" y="692.3"/>
<use href="#t" x="253.1" y="692.3"/>
<use href="#t" x="266.5" y="692.3"/>
<use href="#t" x="207.9" y="698.6"/>
<use href="#t" x="217.5" y="698.6"/>
<use href="#t" x="226.2" y="698.6"/>
<use href="#t" x="231.0" y="698.6"/>
<use href="#t" x="248.3" y="698.6"/>
<use href="#t" x="256.9" y="698.6"/>
<use href="#t" x="261.7" y="698.6"/>
<use href="#t" x="212.7" y="705.0"/>
<use href="#t" x="222.3" y="705.0"/>
<use href="#t" x="237.7" y="705.0"/>
<use href="#t" x="246.3" y="705.0"/>
<use href="#t" x="258.8" y="705.0"/>
<use href="#t" x="268.5" y="705.0"/>
<use href="#t" x="210.8" y="711.3"/>
<use href="#t" x="260.8" y="711.3"/>
<use href="#t" x="269.4" y="711.3"/>
<use href="#t" x="242.5" y="717.6"/>
<use href="#t" x="262.7" y="717.6"/>
<use href="#t" x="294.4" y="673.4"/>
<use href="#t" x="299.2" y="673.4"/>
<use href="#t" x="309.8" y="673.4"/>
<use href="#t" x="323.3" y="673.4"/>
<use href="#t" x="331.0" y="673.4"/>
<use href="#t" x="335.8" y="673.4"/>
<use href="#t" x="350.2" y="673.4"/>
<use href="#t" x="287.7" y="679.7"/>
<use href="#t" x="292.5" y="679.7"/>
<use href="#t" x="298.3" y="679.7"/>
<use href="#t" x="309.8" y="679.7"/>
<use href="#t" x="324.2" y="679.7"/>
<use href="#t" x="332.9" y="679.7"/>
<use href="#t" x="344.4" y="679.7"/>
<use href="#t" x="354.0" y="679.7"/>
<use href="#t" x="362.7" y="679.7"/>
<use href="#t" x="376.2" y="679.7"/>
<use href="#t" x="283.8" y="686.0"/>
<use href="#t" x="299.2" y="686.0"/>
<use href="#t" x="309.8" y="686.0"/>
<use href="#t" x="326.2" y="686.0"/>
<use href="#t" x="370.4" y="686.0"/>
<use href="#t" x="375.2" y="686.0"/>
<use href="#t" x="281.9" y="692.3"/>
<use href="#t" x="288.7" y="692.3"/>
<use href="#t" x="306.9" y="692.3"/>
<use href="#t" x="332.9" y="692.3"/>
<use href="#t" x="336.7" y="692.3"/>
<use href="#t" x="360.8" y="692.3"/>
<use href="#t" x="365.6" y="692.3"/>
<use href="#t" x="379.8" y="692.3"/>
<use href="#t" x="309.8" y="698.6"/>
<use href="#t" x="331.0" y="698.6"/>
<use href="#t" x="341.5" y="698.6"/>
<use href="#t" x="348.3" y="698.6"/>
<use href="#t" x="352.1" y="698.6"/>
<use href="#t" x="370.4" y="698.6"/>
<use href="#t" x="377.1" y="698.6"/>
<use href="#t" x="282.9" y="705.0"/>
<use href="#t" x="288.7" y="705.0"/>
<use href="#t" x="298.3" y="705.0"/>
<use href="#t" x="320.4" y="705.0"/>
<use href="#t" x="337.7" y="705.0"/>
<use href="#t" x="350.2" y="705.0"/>
<use href="#t" x="369.4" y="705.0"/>
<use href="#t" x="378.1" y="705.0"/>
<use href="#t" x="311.7" y="711.3"/>
<use href="#t" x="321.3" y="711.3"/>
<use href="#t" x="331.0" y="711.3"/>
<use href="#t" x="350.2" y="711.3"/>
<use href="#t" x="378.1" y="711.3"/>
<use href="#t" x="281.9" y="717.6"/>
<use href="#t" x="295.4" y="717.6"/>
<use href="#t" x="320.4" y="717.6"/>
<use href="#t" x="338.7" y="717.6"/>
<use href="#t" x="354.0" y="717.6"/>
<use href="#t" x="372.3" y="717.6"/>
<use href="#t" x="376.2" y="717.6"/>
<use href="#t" x="335.8" y="723.9"/>
<use href="#t" x="360.8" y="723.9"/>
<use href="#t" x="378.1" y="723.9"/>
<use href="#t" x="321.3" y="730.2"/>
<use href="#t" x="326.2" y="730.2"/>
<use href="#t" x="344.4" y="730.2"/>
<use href="#t" x="356.9" y="730.2"/>
<use href="#t" x="376.2" y="730.2"/>
<use href="#t" x="307.9" y="736.6"/>
<use href="#t" x="344.4" y="736.6"/>
<use href="#t" x="356.9" y="736.6"/>
<use href="#t" x="366.5" y="736.6"/>
<use href="#t" x="378.1" y="736.6"/>
<use href="#t" x="318.5" y="742.9"/>
<use href="#t" x="345.4" y="742.9"/>
<use href="#t" x="412.7" y="673.4"/>
<use href="#t" x="429.0" y="673.4"/>
<use href="#t" x="458.8" y="673.4"/>
<use href="#t" x="474.2" y="673.4"/>
<use href="#t" x="479.8" y="673.4"/>
<use href="#t" x="380.0" y="679.7"/>
<use href="#t" x="397.3" y="679.7"/>
<use href="#t" x="404.0" y="679.7"/>
<use href="#t" x="428.1" y="679.7"/>
<use href="#t" x="442.5" y="679.7"/>
<use href="#t" x="453.1" y="679.7"/>
<use href="#t" x="463.7" y="679.7"/>
<use href="#t" x="392.5" y="686.0"/>
<use href="#t" x="405.0" y="686.0"/>
<use href="#t" x="419.4" y="686.0"/>
<use href="#t" x="428.1" y="686.0"/>
<use href="#t" x="437.7" y="686.0"/>
<use href="#t" x="448.3" y="686.0"/>
<use href="#t" x="456.0" y="686.0"/>
<use href="#t" x="458.8" y="686.0"/>
<use href="#t" x="470.4" y="686.0"/>
<use href="#t" x="392.5" y="692.3"/>
<use href="#t" x="417.5" y="692.3"/>
<use href="#t" x="428.1" y="692.3"/>
<use href="#t" x="446.3" y="692.3"/>
<use href="#t" x="451.2" y="692.3"/>
<use href="#t" x="472.3" y="692.3"/>
<use href="#t" x="382.9" y="698.6"/>
<use href="#t" x="393.5" y="698.6"/>
<use href="#t" x="398.3" y="698.6"/>
<use href="#t" x="409.8" y="698.6"/>
<use href="#t" x="427.1" y="698.6"/>
<use href="#t" x="431.0" y="698.6"/>
<use href="#t" x="442.5" y="698.6"/>
<use href="#t" x="447.3" y="698.6"/>
<use href="#t" x="461.7" y="698.6"/>
<use href="#t" x="479.8" y="698.6"/>
<use href="#t" x="383.8" y="705.0"/>
<use href="#t" x="388.7" y="705.0"/>
<use href="#t" x="393.5" y="705.0"/>
<use href="#t" x="398.3" y="705.0"/>
<use href="#t" x="422.3" y="705.0"/>
<use href="#t" x="444.4" y="705.0"/>
<use href="#t" x="449.2" y="705.0"/>
<use href="#t" x="464.6" y="705.0"/>
<use href="#t" x="472.3" y="705.0"/>
<use href="#t" x="417.5" y="711.3"/>
<use href="#t" x="427.1" y="711.3"/>
<use href="#t" x="431.9" y="711.3"/>
<use href="#t" x="436.7" y="711.3"/>
<use href="#t" x="441.5" y="711.3"/>
<use href="#t" x="455.0" y="711.3"/>
<use href="#t" x="459.8" y="711.3"/>
<use href="#t" x="468.5" y="711.3"/>
<use href="#t" x="476.2" y="711.3"/>
<use href="#t" x="391.5" y="717.6"/>
<use href="#t" x="399.2" y="717.6"/>
<use href="#t" x="424.2" y="717.6"/>
<use href="#t" x="430.0" y="717.6"/>
<use href="#t" x="439.6" y="717.6"/>
<use href="#t" x="456.9" y="717.6"/>
<use href="#t" x="470.4" y="717.6"/>
<use href="#t" x="476.2" y="717.6"/>
<use href="#t" x="382.9" y="723.9"/>
<use href="#t" x="389.6" y="723.9"/>
<use href="#t" x="396.3" y="723.9"/>
<use href="#t" x="419.4" y="723.9"/>
<use href="#t" x="424.2" y="723.9"/>
<use href="#t" x="430.0" y="723.9"/>
<use href="#t" x="439.6" y="723.9"/>
<use href="#t" x="456.0" y="723.9"/>
<use href="#t" x="474.2" y="723.9"/>
<use href="#t" x="479.0" y="723.9"/>
<use href="#t" x="382.9" y="730.2"/>
<use href="#t" x="393.5" y="730.2"/>
<use href="#t" x="413.7" y="730.2"/>
<use href="#t" x="426.2" y="730.2"/>
<use href="#t" x="441.5" y="730.2"/>
<use href="#t" x="454.0" y="730.2"/>
<use href="#t" x="464.6" y="730.2"/>
<use href="#t" x="472.3" y="730.2"/>
<use href="#t" x="478.1" y="730.2"/>
<use href="#t" x="382.9" y="736.6"/>
<use href="#t" x="409.8" y="736.6"/>
<use href="#t" x="424.2" y="736.6"/>
<use href="#t" x="436.7" y="736.6"/>
<use href="#t" x="459.8" y="736.6"/>
<use href="#t" x="464.6" y="736.6"/>
<use href="#t" x="470.4" y="736.6"/>
<use href="#t" x="476.2" y="736.6"/>
<use href="#t" x="383.8" y="742.9"/>
<use href="#t" x="387.7" y="749.2"/>
<use href="#t" x="487.7" y="667.0"/>
<use href="#t" x="491.7" y="667.0"/>
<use href="#t" x="481.2" y="673.4"/>
<use href="#t" x="484.5" y="673.4"/>
<use href="#t" x="489.3" y="673.4"/>
<use href="#t" x="490.1" y="679.7"/>
<use href="#t" x="490.9" y="686.0"/>
<use href="#t" x="490.9" y="692.3"/>
<use href="#t" x="486.1" y="698.6"/>
<use href="#t" x="491.7" y="698.6"/>
<use href="#t" x="486.1" y="711.3"/>
<use href="#t" x="486.9" y="723.9"/>
<use href="#t" x="490.1" y="723.9"/>
<use href="#t" x="494.2" y="723.9"/>
<use href="#t" x="480.4" y="730.2"/>
<use href="#t" x="494.2" y="730.2"/>
<use href="#t" x="487.7" y="736.6"/>
<use href="#t" x="487.7" y="742.9"/>
</g>
<g fill="#000">
<rect x="432.9" y="603.6" width="3" height="3"/>
<rect x="430.0" y="617.7" width="3" height="3"/>
<rect x="239.4" y="645.6" width="3" height="3"/>
<rect x="356.0" y="649.1" width="3" height="3"/>
</g>
<g stroke="#000" stroke-width="2.8" fill="none">
<path d="M83.5 431.9V758.5M74.0 749.2H514"/>
<path d="M74.0 433.2H83.5"/>
<path d="M74.0 496.4H83.5"/>
<path d="M74.0 559.6H83.5"/>
<path d="M74.0 622.8H83.5"/>
<path d="M74.0 686.0H83.5"/>
<path d="M185.5 749.2V758.5"/>
<path d="M287.7 749.2V758.5"/>
<path d="M389.8 749.2V758.5"/>
<path d="M492 749.2V758.5"/>
<path d="M84 595.5L495.5 707" stroke-width="2.7"/>
</g>
<path d="M84 693L449.5 717.5" stroke="#f50b0b" stroke-width="2.8" fill="none"/>
<g fill="#f50b0b">
<path d="M99.4 618.6H107.6L103.5 627.2Z"/>
<path d="M160.7 656.5H168.9L164.8 665.1Z"/>
<path d="M181.3 675.5H189.5L185.4 684.1Z"/>
<path d="M201.9 681.8H210.1L206 690.4Z"/>
<path d="M80.7 694.4H88.9L84.8 703.0Z"/>
<path d="M181.3 700.8H189.5L185.4 709.4Z"/>
<path d="M140.3 713.4H148.5L144.4 722.0Z"/>
<path d="M181.3 732.4H189.5L185.4 741.0Z"/>
<path d="M80.7 745.0H88.9L84.8 753.6Z"/>
<path d="M263.4 719.7H271.6L267.5 728.3Z"/>
<path d="M323.9 700.8H332.1L328 709.4Z"/>
<path d="M323.9 719.7H332.1L328 728.3Z"/>
<path d="M405.7 707.1H413.9L409.8 715.7Z"/>
<path d="M446.1 707.1H454.3L450.2 715.7Z"/>
</g>
<text x="4.3" y="439.1" font-size="23.6" text-anchor="start">B</text>
<text x="73.6" y="440.8" font-size="21.5" text-anchor="end" stroke="#000" stroke-width="0.35" textLength="22.8" lengthAdjust="spacingAndGlyphs">50</text>
<text x="73.6" y="504.0" font-size="21.5" text-anchor="end" stroke="#000" stroke-width="0.35" textLength="22.8" lengthAdjust="spacingAndGlyphs">40</text>
<text x="73.6" y="567.2" font-size="21.5" text-anchor="end" stroke="#000" stroke-width="0.35" textLength="22.8" lengthAdjust="spacingAndGlyphs">30</text>
<text x="73.6" y="630.4" font-size="21.5" text-anchor="end" stroke="#000" stroke-width="0.35" textLength="22.8" lengthAdjust="spacingAndGlyphs">20</text>
<text x="73.6" y="693.6" font-size="21.5" text-anchor="end" stroke="#000" stroke-width="0.35" textLength="22.8" lengthAdjust="spacingAndGlyphs">10</text>
<text x="73.6" y="756.8" font-size="21.5" text-anchor="end" stroke="#000" stroke-width="0.35" textLength="11.4" lengthAdjust="spacingAndGlyphs">0</text>
<text x="84" y="781" font-size="21.5" text-anchor="middle" stroke="#000" stroke-width="0.35" textLength="22.6" lengthAdjust="spacingAndGlyphs">25</text>
<text x="185.6" y="781" font-size="21.5" text-anchor="middle" stroke="#000" stroke-width="0.35" textLength="22.6" lengthAdjust="spacingAndGlyphs">30</text>
<text x="287.7" y="781" font-size="21.5" text-anchor="middle" stroke="#000" stroke-width="0.35" textLength="22.6" lengthAdjust="spacingAndGlyphs">35</text>
<text x="389.8" y="781" font-size="21.5" text-anchor="middle" stroke="#000" stroke-width="0.35" textLength="22.6" lengthAdjust="spacingAndGlyphs">40</text>
<text x="492" y="781" font-size="21.5" text-anchor="middle" stroke="#000" stroke-width="0.35" textLength="22.6" lengthAdjust="spacingAndGlyphs">45</text>
<text x="234" y="811.2" font-size="21" text-anchor="start" textLength="125" lengthAdjust="spacingAndGlyphs">Age (years)</text>
<text x="19.9" y="620.6" font-size="24.5" text-anchor="start" textLength="47" lengthAdjust="spacingAndGlyphs" transform="rotate(-90 19.9 620.6)">AFC</text>
</g>
</svg></body></html>
